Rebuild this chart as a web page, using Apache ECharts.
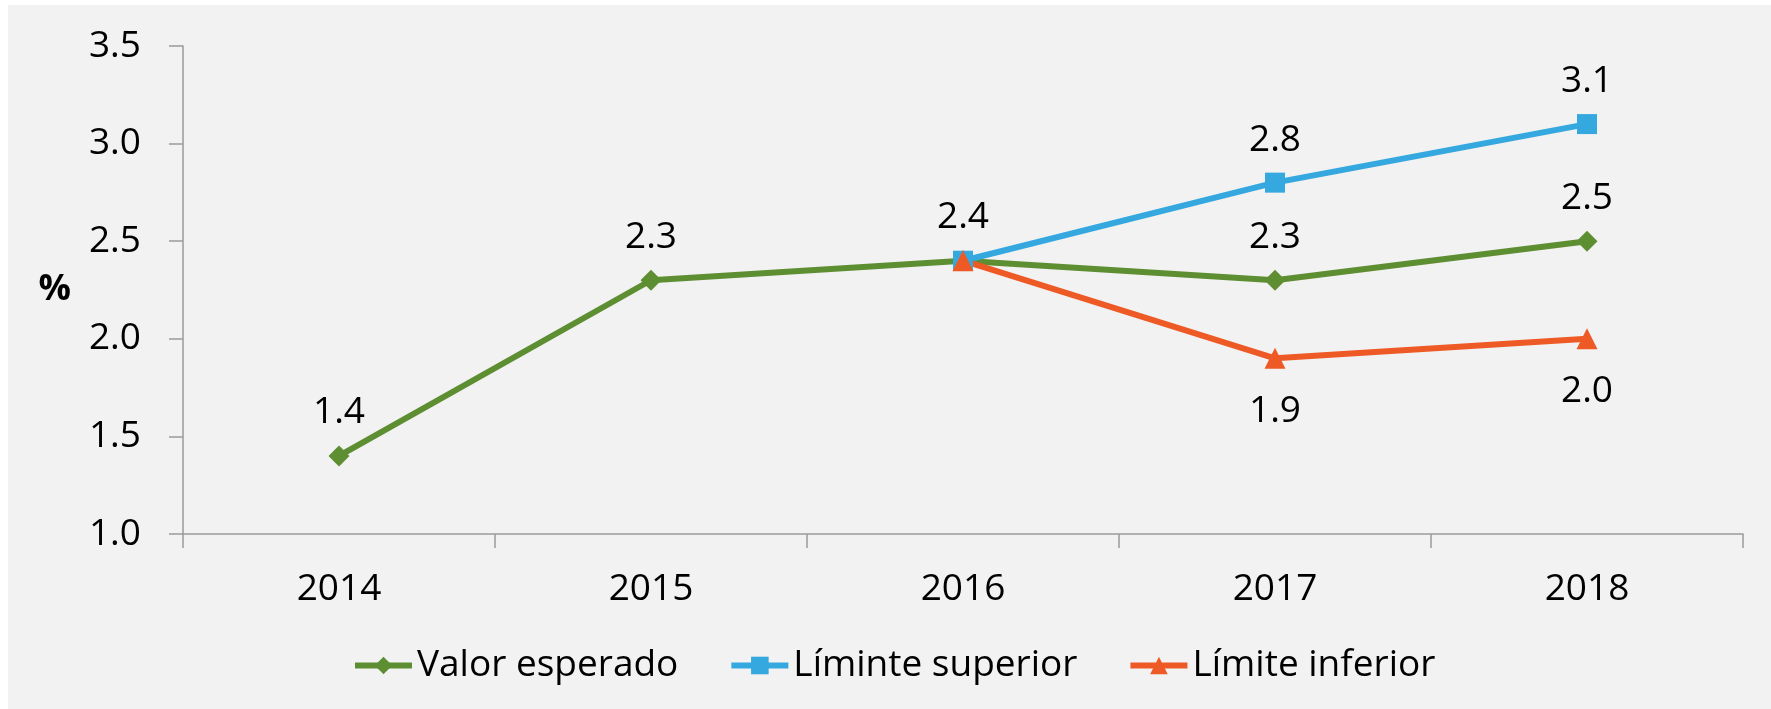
<!DOCTYPE html>
<html>
<head>
<meta charset="utf-8">
<script src="https://cdn.jsdelivr.net/npm/echarts@6/dist/echarts.min.js"></script>
<style>
  html, body { margin: 0; padding: 0; background: #fff; }
  #wrap { position: relative; width: 1771px; height: 709px; }
  #bg { position: absolute; left: 8px; top: 5px; right: 0; bottom: 0; background: #f2f2f2; }
  #chart { position: absolute; left: 0; top: 0; width: 1771px; height: 709px; }
</style>
</head>
<body>
<div id="wrap">
  <div id="bg"></div>
  <div id="chart"></div>
</div>
<script>
// datos
const years = ["2014", "2015", "2016", "2017", "2018"];
const valorEsperado = [1.4, 2.3, 2.4, 2.3, 2.5];
const limiteSuperior = [null, null, 2.4, 2.8, 3.1];
const limiteInferior = [null, null, 2.4, 1.9, 2.0];
const seriesNames = ["Valor esperado", "Líminte superior", "Límite inferior"];

const font = "Open Sans";
const fmt = (p) => Number(p.value).toFixed(1);

// el punto de 2016 ya lleva la etiqueta de la serie verde
const hideFirst = (arr) => arr.map((v, i) => (i === 2 ? { value: v, label: { show: false } } : v));

const myChart = echarts.init(document.getElementById("chart"));
myChart.setOption({
  backgroundColor: "transparent",
  textStyle: { fontFamily: font },
  grid: { left: 183, right: 28, top: 46, bottom: 175, containLabel: false },
  legend: {
    left: 347,
    top: 642,
    itemWidth: 57,
    itemHeight: 22,
    itemGap: 50,
    lineStyle: { width: 6 },
    textStyle: { fontFamily: font, fontSize: 37, color: "#000" },
    data: seriesNames,
  },
  xAxis: {
    type: "category",
    data: years,
    boundaryGap: true,
    axisLine: { lineStyle: { color: "#9a9a9a", width: 1.5 } },
    axisTick: { show: true, length: 14, lineStyle: { color: "#9a9a9a", width: 1.5 } },
    axisLabel: { fontFamily: font, fontSize: 37, color: "#000", margin: 37 },
    splitLine: { show: false },
  },
  yAxis: {
    type: "value",
    min: 1,
    max: 3.5,
    interval: 0.5,
    name: "%",
    nameLocation: "middle",
    nameRotate: 0,
    nameGap: 112,
    nameTextStyle: { fontFamily: font, fontSize: 36, fontWeight: "bold", color: "#000", padding: [0, 0, 10, 0] },
    axisLine: { show: true, lineStyle: { color: "#9a9a9a", width: 1.5 } },
    axisTick: { show: true, length: 14, lineStyle: { color: "#9a9a9a", width: 1.5 } },
    axisLabel: { fontFamily: font, fontSize: 37, color: "#000", margin: 42, formatter: (v) => v.toFixed(1) },
    splitLine: { show: false },
  },
  series: [
    {
      name: seriesNames[0],
      type: "line",
      data: valorEsperado,
      symbol: "diamond",
      symbolSize: 21,
      lineStyle: { color: "#5e8e32", width: 6 },
      itemStyle: { color: "#5e8e32" },
      label: { show: true, position: "top", distance: 14, fontFamily: font, fontSize: 37, color: "#000", formatter: fmt },
    },
    {
      name: seriesNames[1],
      type: "line",
      data: hideFirst(limiteSuperior),
      symbol: "rect",
      symbolSize: 20,
      lineStyle: { color: "#35a8e0", width: 6 },
      itemStyle: { color: "#35a8e0" },
      label: { show: true, position: "top", distance: 14, fontFamily: font, fontSize: 37, color: "#000", formatter: fmt },
    },
    {
      name: seriesNames[2],
      type: "line",
      data: hideFirst(limiteInferior),
      symbol: "triangle",
      symbolSize: 21,
      lineStyle: { color: "#ee5a26", width: 6 },
      itemStyle: { color: "#ee5a26" },
      label: { show: true, position: "bottom", distance: 24, fontFamily: font, fontSize: 37, color: "#000", formatter: fmt },
    },
  ],
});
</script>
</body>
</html>
